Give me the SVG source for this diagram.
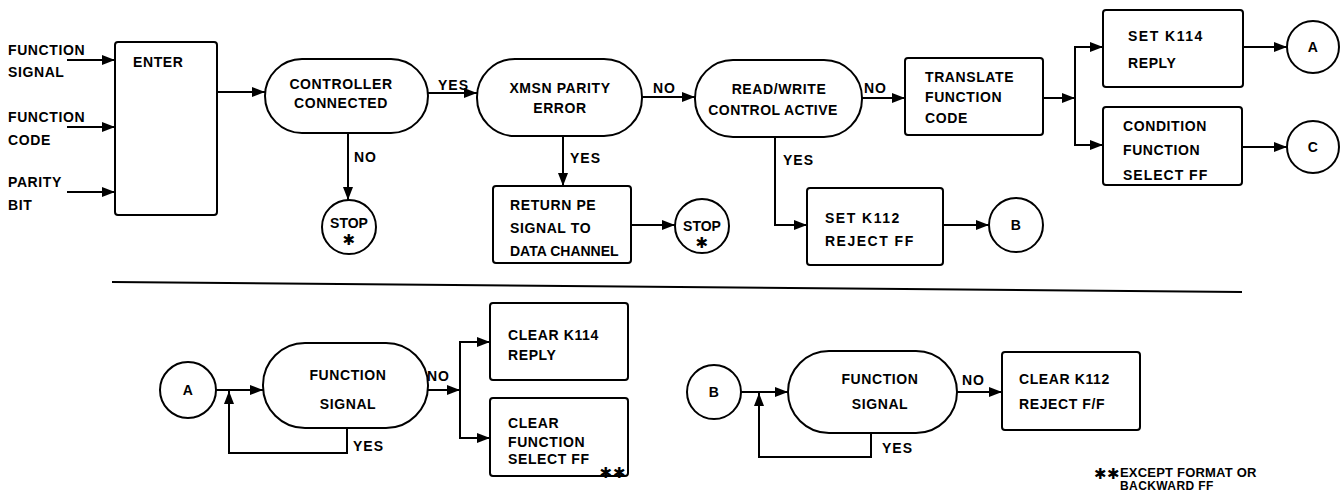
<svg xmlns="http://www.w3.org/2000/svg" width="1342" height="493" viewBox="0 0 1342 493">
<style>
  .s{fill:none;stroke:#000;stroke-width:2}
  .b{fill:#fff;stroke:#000;stroke-width:2}
  text{font-family:"Liberation Sans",Arial,sans-serif;font-weight:bold;font-size:14px;fill:#000;letter-spacing:0.6px}
  .m{text-anchor:middle}
  .l{font-size:14px;letter-spacing:1px}
  .st{font-family:"DejaVu Sans",sans-serif;font-size:15px;text-anchor:middle}
</style>
<defs>
  <marker id="ah" markerUnits="userSpaceOnUse" markerWidth="14" markerHeight="10" refX="13" refY="5" orient="auto">
    <path d="M0,0 L13,5 L0,10 Z" fill="#000"/>
  </marker>
</defs>
<rect width="1342" height="493" fill="#fff"/>

<g id="connectors" class="s" marker-end="url(#ah)">
  <line x1="67" y1="60" x2="115" y2="60"/>
  <line x1="67" y1="127" x2="115" y2="127"/>
  <line x1="67" y1="192" x2="115" y2="192"/>
  <line x1="217" y1="92" x2="265" y2="92"/>
  <line x1="428" y1="93" x2="477" y2="93"/>
  <line x1="348" y1="133" x2="348" y2="200"/>
  <line x1="642" y1="97" x2="695" y2="97"/>
  <line x1="563" y1="136" x2="563" y2="186"/>
  <line x1="631" y1="225" x2="675" y2="225"/>
  <line x1="862" y1="98" x2="905" y2="98"/>
  <polyline points="775,137 775,225 807,225"/>
  <line x1="943" y1="225" x2="989" y2="225"/>
  <line x1="1043" y1="98" x2="1075" y2="98"/>
  <polyline points="1075,98 1075,47 1103,47"/>
  <polyline points="1075,98 1075,145 1103,145"/>
  <line x1="1243" y1="47" x2="1287" y2="47"/>
  <line x1="1242" y1="147" x2="1287" y2="147"/>
  <line x1="216" y1="390" x2="263" y2="390"/>
  <polyline points="347,428 347,453 229,453 229,391"/>
  <line x1="428" y1="390" x2="460" y2="390"/>
  <polyline points="460,390 460,342 490,342"/>
  <polyline points="460,390 460,438 490,438"/>
  <line x1="741" y1="392" x2="788" y2="392"/>
  <polyline points="871,433 871,457 759,457 759,393"/>
  <line x1="957" y1="392" x2="1002" y2="392"/>
</g>
<line class="s" x1="112" y1="282" x2="1242" y2="292"/>

<g id="inputs">
  <text x="8" y="55">FUNCTION</text>
  <text x="8" y="77">SIGNAL</text>
  <text x="8" y="122">FUNCTION</text>
  <text x="8" y="145">CODE</text>
  <text x="8" y="187">PARITY</text>
  <text x="8" y="210">BIT</text>
</g>
<g id="enter">
  <rect class="b" x="115" y="42" width="102" height="173" rx="3"/>
  <text x="133" y="67">ENTER</text>
</g>
<g id="controller">
  <rect class="b" x="265" y="59" width="163" height="74" rx="37"/>
  <text class="m" x="341" y="89">CONTROLLER</text>
  <text class="m" x="341" y="108">CONNECTED</text>
</g>
<g id="stop1">
  <circle class="b" cx="349" cy="227" r="27"/>
  <text class="m" x="349" y="228" style="letter-spacing:0">STOP</text>
  <text class="st" x="349" y="245">✱</text>
</g>
<g id="xmsn">
  <rect class="b" x="477" y="59" width="165" height="77" rx="38"/>
  <text class="m" x="560" y="93">XMSN PARITY</text>
  <text class="m" x="560" y="113">ERROR</text>
</g>
<g id="returnpe">
  <rect class="b" x="493" y="186" width="138" height="77" rx="3"/>
  <text x="510" y="210">RETURN PE</text>
  <text x="510" y="233">SIGNAL  TO</text>
  <text x="510" y="256" style="letter-spacing:0">DATA CHANNEL</text>
</g>
<g id="stop2">
  <circle class="b" cx="702" cy="226" r="27"/>
  <text class="m" x="702" y="231" style="letter-spacing:0">STOP</text>
  <text class="st" x="702" y="248">✱</text>
</g>
<g id="readwrite">
  <rect class="b" x="695" y="60" width="167" height="77" rx="38"/>
  <text class="m" x="779" y="94">READ/WRITE</text>
  <text class="m" x="773" y="115" style="letter-spacing:0.4px">CONTROL ACTIVE</text>
</g>
<g id="setk112">
  <rect class="b" x="807" y="188" width="136" height="77" rx="3"/>
  <text x="825" y="223" style="letter-spacing:1.5px">SET  K112</text>
  <text x="825" y="246" style="letter-spacing:1.5px">REJECT FF</text>
</g>
<g id="circleB1">
  <circle class="b" cx="1016" cy="225" r="27"/>
  <text class="m" x="1016" y="230">B</text>
</g>
<g id="translate">
  <rect class="b" x="905" y="58" width="138" height="77" rx="3"/>
  <text x="925" y="82">TRANSLATE</text>
  <text x="925" y="102">FUNCTION</text>
  <text x="925" y="123">CODE</text>
</g>
<g id="setk114">
  <rect class="b" x="1103" y="10" width="140" height="77" rx="3"/>
  <text x="1128" y="41" style="letter-spacing:1.5px">SET  K114</text>
  <text x="1128" y="68">REPLY</text>
</g>
<g id="condition">
  <rect class="b" x="1103" y="107" width="139" height="78" rx="3"/>
  <text x="1123" y="131">CONDITION</text>
  <text x="1123" y="155">FUNCTION</text>
  <text x="1123" y="180" style="letter-spacing:1px">SELECT  FF</text>
</g>
<g id="circleA1">
  <circle class="b" cx="1313" cy="47" r="26"/>
  <text class="m" x="1313" y="52">A</text>
</g>
<g id="circleC">
  <circle class="b" cx="1313" cy="147" r="26"/>
  <text class="m" x="1313" y="152">C</text>
</g>

<g id="labels">
  <text class="l" x="438" y="90">YES</text>
  <text class="l" x="354" y="162">NO</text>
  <text class="l" x="653" y="93">NO</text>
  <text class="l" x="570" y="163">YES</text>
  <text class="l" x="864" y="93">NO</text>
  <text class="l" x="783" y="165">YES</text>
  <text class="l" x="353" y="451">YES</text>
  <text class="l" x="427" y="381">NO</text>
  <text class="l" x="882" y="453">YES</text>
  <text class="l" x="962" y="385">NO</text>
</g>

<g id="circleA2">
  <circle class="b" cx="188" cy="390" r="28"/>
  <text class="m" x="188" y="395">A</text>
</g>
<g id="funcsigA">
  <rect class="b" x="263" y="343" width="165" height="85" rx="42"/>
  <text class="m" x="348" y="380">FUNCTION</text>
  <text class="m" x="348" y="409">SIGNAL</text>
</g>
<g id="cleark114">
  <rect class="b" x="490" y="303" width="138" height="77" rx="3"/>
  <text x="508" y="340">CLEAR K114</text>
  <text x="508" y="360">REPLY</text>
</g>
<g id="clearfunc">
  <rect class="b" x="490" y="398" width="138" height="78" rx="3"/>
  <text x="508" y="428">CLEAR</text>
  <text x="508" y="447">FUNCTION</text>
  <text x="508" y="464">SELECT  FF</text>
  <text class="st" x="613" y="478" style="letter-spacing:1px">✱✱</text>
</g>
<g id="circleB2">
  <circle class="b" cx="714" cy="392" r="27"/>
  <text class="m" x="714" y="397">B</text>
</g>
<g id="funcsigB">
  <rect class="b" x="788" y="351" width="169" height="82" rx="41"/>
  <text class="m" x="880" y="384">FUNCTION</text>
  <text class="m" x="880" y="409">SIGNAL</text>
</g>
<g id="cleark112">
  <rect class="b" x="1002" y="352" width="138" height="78" rx="3"/>
  <text x="1019" y="384">CLEAR K112</text>
  <text x="1019" y="409">REJECT F/F</text>
</g>
<g id="footnote">
  <text class="st" x="1107" y="479" style="letter-spacing:0.5px">✱✱</text>
  <text x="1120" y="477" style="font-size:13px;letter-spacing:0.2px">EXCEPT  FORMAT  OR</text>
  <text x="1120" y="490" style="font-size:12px;letter-spacing:0.4px">BACKWARD  FF</text>
</g>
</svg>
